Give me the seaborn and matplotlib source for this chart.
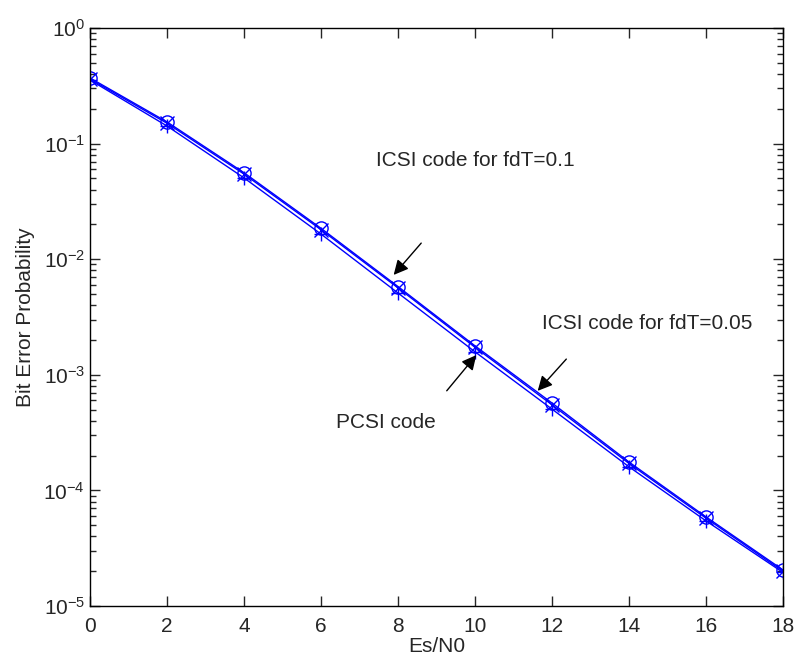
import matplotlib
matplotlib.use("Agg")
import matplotlib.pyplot as plt
import seaborn as sns
import numpy as np
import pandas as pd

snr = [0, 2, 4, 6, 8, 10, 12, 14, 16, 18]
ber_icsi_01 = [0.370, 0.154, 0.056, 0.0185, 0.0058, 0.00178, 0.00057, 0.000176, 5.9e-5, 2.05e-5]
ber_icsi_005 = [0.362, 0.150, 0.0545, 0.0180, 0.00565, 0.00173, 0.00055, 0.000171, 5.75e-5, 2.0e-5]
ber_pcsi = [0.355, 0.142, 0.0505, 0.0165, 0.0051, 0.00158, 0.000505, 0.000160, 5.45e-5, 1.95e-5]
xticks = [0, 2, 4, 6, 8, 10, 12, 14, 16, 18]

sns.set_style("ticks")
plt.rcParams['font.family'] = ['Liberation Sans', 'DejaVu Sans']
plt.rcParams['mathtext.default'] = 'regular'
plt.rcParams['font.size'] = 15

fig = plt.figure(figsize=(7.97, 6.64), dpi=100)
ax = fig.add_axes([90/797, 58/664, 693/797, 578/664])

blue = '#0000ff'
for vals, mk in [(ber_icsi_01, 'o'), (ber_icsi_005, 'x'), (ber_pcsi, '+')]:
    df = pd.DataFrame({'snr': snr, 'ber': vals})
    sns.lineplot(data=df, x='snr', y='ber', ax=ax, color=blue, lw=1.0,
                 marker=mk, markersize=9.5, markerfacecolor='none',
                 markeredgecolor=blue, markeredgewidth=1.0)

ax.set_yscale('log')
ax.set_xlim(0, 18)
ax.set_ylim(1e-5, 1)
ax.set_xticks(xticks)
ax.set_xticklabels([str(t) for t in xticks])
ax.tick_params(which='both', direction='in', top=True, right=True, labelsize=15)
ax.tick_params(which='major', length=7, width=1)
ax.tick_params(which='minor', length=4, width=1)
ax.tick_params(axis='x', which='major', pad=8)
for s in ax.spines.values():
    s.set_linewidth(1.0)
    s.set_color('black')

ax.set_xlabel('Es/N0', fontsize=15, labelpad=1)
ax.set_ylabel('Bit Error Probability', fontsize=15, labelpad=6)

arr = dict(arrowstyle='-|>', color='black', lw=1.0, mutation_scale=22)
ax.annotate('', xy=(7.84, 0.00701), xytext=(8.65, 0.01437), arrowprops=arr)
ax.annotate('', xy=(10.08, 0.001545), xytext=(9.22, 0.000697), arrowprops=arr)
ax.annotate('', xy=(11.58, 0.000697), xytext=(12.42, 0.001425), arrowprops=arr)

ax.text(10.0, 0.0721, 'ICSI code for fdT=0.1', ha='center', va='center', fontsize=15)
ax.text(11.74, 0.0028, 'ICSI code for fdT=0.05', ha='left', va='center', fontsize=15)
ax.text(7.69, 0.000383, 'PCSI code', ha='center', va='center', fontsize=15)

fig.savefig('out.png', dpi=100)
